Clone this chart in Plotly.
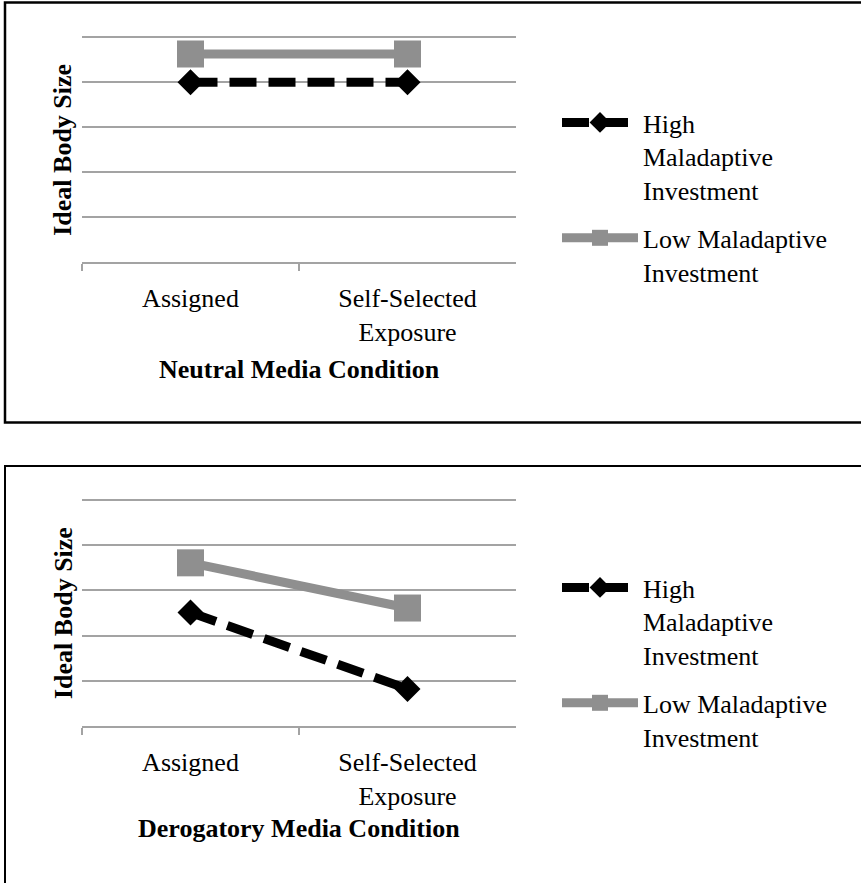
import plotly.graph_objects as go

W, H = 861, 883

categories = ["Assigned", "Self-Selected<br>Exposure"]
series_names = ["High<br>Maladaptive<br>Investment", "Low Maladaptive<br>Investment"]

neutral_high = [4.0, 4.0]
neutral_low = [4.63, 4.63]
derog_high = [2.51, 0.82]
derog_low = [3.61, 2.61]

panel_titles = ["Neutral Media Condition", "Derogatory Media Condition"]
y_title = "Ideal Body Size"

GRID = "#a3a3a3"
GRAY = "#8f8f8f"
SERIF = "Liberation Serif"

def py(px):
    return 1 - px / H

def px_x(px):
    return px / W

fig = go.Figure()

panels = [
    dict(high=neutral_high, low=neutral_low, xa="x", ya="y", leg="legend"),
    dict(high=derog_high, low=derog_low, xa="x2", ya="y2", leg="legend2"),
]

for p in panels:
    fig.add_trace(go.Scatter(
        x=categories, y=p["high"], name=series_names[0], mode="lines+markers",
        line=dict(color="black", width=9, dash="27px,12px"),
        marker=dict(symbol="diamond", size=20, color="black"),
        xaxis=p["xa"], yaxis=p["ya"], legend=p["leg"], legendgroup="high",
    ))
    fig.add_trace(go.Scatter(
        x=categories, y=p["low"], name=series_names[1], mode="lines+markers",
        line=dict(color=GRAY, width=9),
        marker=dict(symbol="square", size=27, color=GRAY),
        xaxis=p["xa"], yaxis=p["ya"], legend=p["leg"], legendgroup="low",
    ))

YMAX = 5.12
xdom = [px_x(82), px_x(516)]
top_dom = [py(262.3), py(262.3 - 45 * YMAX)]
bot_dom = [py(726), py(726 - 45.2 * YMAX)]

xcommon = dict(
    domain=xdom, type="category", range=[-0.5, 1.5],
    showline=True, linecolor=GRID, linewidth=1.5,
    ticks="outside", ticklen=7, tickcolor=GRID, tickwidth=1.5,
    tickson="boundaries", showgrid=False, zeroline=False,
    ticklabelstandoff=12,
    tickfont=dict(family=SERIF, size=26, color="black"),
)
ycommon = dict(
    range=[0, YMAX], tickmode="array", tickvals=[1, 2, 3, 4, 5],
    showticklabels=False, showgrid=True,
    gridcolor=GRID, gridwidth=1.5, zeroline=False, showline=False, ticks="",
)

legcommon = dict(
    x=px_x(557), xanchor="left", yanchor="top",
    font=dict(family=SERIF, size=26, color="black"),
    itemwidth=76, valign="top", bgcolor="rgba(0,0,0,0)",
    traceorder="grouped", tracegroupgap=11,
)

fig.update_layout(
    width=W, height=H,
    margin=dict(l=0, r=0, t=0, b=0),
    paper_bgcolor="white", plot_bgcolor="white",
    showlegend=True,
    xaxis=dict(xcommon, anchor="y"),
    yaxis=dict(ycommon, domain=top_dom, anchor="x"),
    xaxis2=dict(xcommon, anchor="y2"),
    yaxis2=dict(ycommon, domain=bot_dom, anchor="x2"),
    legend=dict(legcommon, y=py(99)),
    legend2=dict(legcommon, y=py(564)),
)

xc = (xdom[0] + xdom[1]) / 2
ann = []
for title, ypx, ycen in [(panel_titles[0], 369, 149.8), (panel_titles[1], 828, 613)]:
    ann.append(dict(
        text=f"<b>{title}</b>", x=xc, y=py(ypx), xref="paper", yref="paper",
        showarrow=False, xanchor="center", yanchor="middle",
        font=dict(family=SERIF, size=26, color="black"),
    ))
    ann.append(dict(
        text=f"<b>{y_title}</b>", x=px_x(63), y=py(ycen), xref="paper", yref="paper",
        showarrow=False, xanchor="center", yanchor="middle", textangle=-90,
        font=dict(family=SERIF, size=26, color="black"),
    ))
fig.update_layout(annotations=ann)

# panel borders
fig.add_shape(type="rect", xref="paper", yref="paper",
              x0=px_x(5), x1=1.05, y0=py(422.5), y1=py(2.5),
              line=dict(color="black", width=2.5), fillcolor="rgba(0,0,0,0)", layer="above")
fig.add_shape(type="rect", xref="paper", yref="paper",
              x0=px_x(5), x1=1.05, y0=-0.05, y1=py(466),
              line=dict(color="black", width=2), fillcolor="rgba(0,0,0,0)", layer="above")

fig.write_html("out.html", config={"displayModeBar": False},
               post_script="document.body.style.margin='0px';")
